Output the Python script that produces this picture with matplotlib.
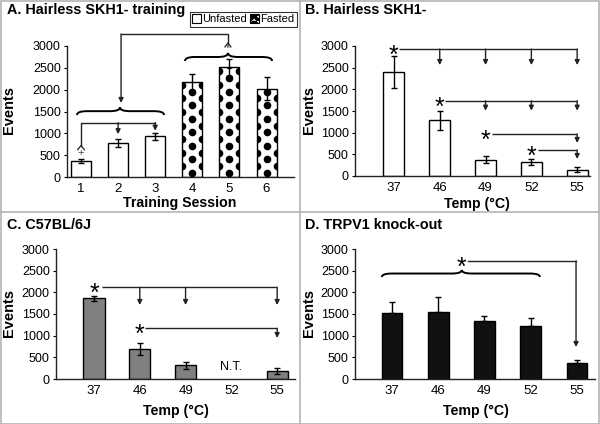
import numpy as np
import matplotlib
matplotlib.use("Agg")
import matplotlib.pyplot as plt
from matplotlib.path import Path
from matplotlib.patches import PathPatch, Patch, Rectangle
from matplotlib.lines import Line2D

plt.rcParams['font.family'] = ['Liberation Sans', 'DejaVu Sans']
plt.rcParams['hatch.linewidth'] = 2.0

# data
sessions = ["1", "2", "3", "4", "5", "6"]
a_vals = [360, 770, 930, 2180, 2510, 2020]
a_err = [50, 90, 80, 180, 200, 260]
a_fasted = [False, False, False, True, True, True]

temps = ["37", "46", "49", "52", "55"]
b_vals = [2410, 1290, 380, 330, 150]
b_err = [370, 220, 80, 70, 50]

c_vals = [1860, 700, 320, np.nan, 190]
c_err = [50, 140, 80, 0, 70]

d_vals = [1530, 1540, 1330, 1220, 360]
d_err = [240, 350, 120, 190, 80]

W, H = 600, 424
fig = plt.figure(figsize=(6, 4.24), dpi=100)


def px_axes(left, right, top, bottom):
    return fig.add_axes([left / W, 1 - bottom / H, (right - left) / W, (bottom - top) / H])


def style(ax, xlim, labels, positions):
    ax.set_ylim(0, 3000)
    ax.set_xlim(*xlim)
    ax.set_yticks(range(0, 3001, 500))
    ax.set_xticks(positions)
    ax.set_xticklabels(labels)
    for s in ["top", "right"]:
        ax.spines[s].set_visible(False)
    for s in ["left", "bottom"]:
        ax.spines[s].set_color("#222222")
        ax.spines[s].set_linewidth(1)
    ax.tick_params(axis="y", length=2.5, width=0.8, pad=2, labelsize=9, direction="out")
    ax.tick_params(axis="x", length=0, pad=4.5, labelsize=9.5)
    ax.patch.set_alpha(0)


def curly(ax, x0, x1, xc, y0, h, d, lw=1.4):
    ym = y0 + h / 2
    verts = [(x0, y0), (x0, ym), (x0 + d, ym),
             (xc - d, ym), (xc, ym), (xc, y0 + h),
             (xc, ym), (xc + d, ym),
             (x1 - d, ym), (x1, ym), (x1, y0)]
    codes = [Path.MOVETO, Path.CURVE3, Path.CURVE3,
             Path.LINETO, Path.CURVE3, Path.CURVE3,
             Path.CURVE3, Path.CURVE3,
             Path.LINETO, Path.CURVE3, Path.CURVE3]
    ax.add_patch(PathPatch(Path(verts, codes), fill=False, lw=lw, color="black", clip_on=False))


def arrow(ax, x, y_from, y_to, color="#222222"):
    ax.annotate("", xy=(x, y_to), xytext=(x, y_from),
                arrowprops=dict(arrowstyle="-|>", lw=1, color=color, mutation_scale=7,
                                shrinkA=0, shrinkB=0), annotation_clip=False)


def hline(ax, x0, x1, y, color="#222222"):
    ax.plot([x0, x1], [y, y], color=color, lw=1, clip_on=False, solid_capstyle="butt")


def star(ax, x, y, size=18):
    ax.annotate("*", xy=(x, y), xytext=(0, -10), textcoords="offset points",
                ha="center", va="baseline", fontsize=size, annotation_clip=False)


# ---------------- Panel A ----------------
axA = px_axes(67, 294, 46, 177)
xa = np.arange(1, 7)
wa = 0.54
for x, v, e, f in zip(xa, a_vals, a_err, a_fasted):
    rect = axA.bar(x, v, width=wa, color="white", edgecolor="black", lw=1, zorder=2)[0]
    if f:
        # big black dot fill
        pts_x, pts_y = [], []
        dy = 155
        for k, yy in enumerate(np.arange(dy * 0.6, v + dy, dy)):
            xs = [x] if k % 2 == 0 else [x - wa / 2, x + wa / 2]
            for xx in xs:
                pts_x.append(xx)
                pts_y.append(yy)
        dots, = axA.plot(pts_x, pts_y, "o", color="black", ms=5.5, mew=0, zorder=3)
        dots.set_clip_path(rect)
    axA.errorbar(x, v, yerr=e, color="black", lw=1, capsize=2, capthick=1, zorder=4)
style(axA, (0.623, 6.74), sessions, xa)

curly(axA, 0.89, 3.24, 2.05, 1420, 175, 0.27)
curly(axA, 3.80, 6.15, 4.96, 2656, 185, 0.27)
# big arrow from fasted group to unfasted group
axA.plot([4.96, 4.96, 2.08], [3069, 3275, 3275], color="#222222", lw=1, clip_on=False)
arrow(axA, 2.08, 3275, 1695)
axA.plot([4.96 - 0.08, 4.96, 4.96 + 0.08], [3069 - 90, 3069, 3069 - 90], color="#222222", lw=0.9, clip_on=False)
axA.text(4.96, 2960, "*", ha="center", va="center", fontsize=8, color="#333333")
# bracket over sessions 1-3
axA.plot([1, 1, 3], [720, 1244, 1244], color="#222222", lw=1, clip_on=False)
axA.plot([1 - 0.09, 1, 1 + 0.09], [720 - 95, 720, 720 - 95], color="#222222", lw=0.9)
axA.text(1, 540, "+", ha="center", va="center", fontsize=8, color="#444444")
arrow(axA, 2, 1244, 980)
arrow(axA, 3, 1244, 1060)

axA.legend(handles=[Patch(facecolor="white", edgecolor="black", lw=0.8),
                    Patch(facecolor="white", edgecolor="black", hatch="OO", lw=0.8)],
           labels=["Unfasted", "Fasted"], ncol=2, loc="upper left",
           bbox_to_anchor=(190 / W, 1 - 12 / H), bbox_transform=fig.transFigure,
           fontsize=8, frameon=True, fancybox=False, edgecolor="black",
           handlelength=0.8, handleheight=0.8, handletextpad=0.1, columnspacing=0.3,
           borderpad=0.2, borderaxespad=0)
axA.get_legend().get_frame().set_linewidth(0.8)

# ---------------- Panel B ----------------
axB = px_axes(355, 590, 46, 176)
xb = np.arange(5)
axB.bar(xb, b_vals, width=0.46, color="white", edgecolor="black", lw=1, zorder=2)
axB.errorbar(xb, b_vals, yerr=b_err, fmt="none", ecolor="black", lw=1, capsize=2, capthick=1, zorder=3)
style(axB, (-0.85, 4.28), temps, xb)

star(axB, 0, 2930)
hline(axB, 0.1, 4, 2930)
for i in [1, 2, 3, 4]:
    arrow(axB, i, 2930, 2560)
star(axB, 1, 1738)
hline(axB, 1.12, 4, 1738)
for i in [2, 3, 4]:
    arrow(axB, i, 1738, 1507)
star(axB, 2, 970)
hline(axB, 2.15, 4, 970)
arrow(axB, 4, 970, 762)
star(axB, 3, 600)
hline(axB, 3.14, 4, 600)
arrow(axB, 4, 600, 392)

# ---------------- Panel C ----------------
axC = px_axes(56, 295, 249, 379)
xc = np.arange(5)
c_mask = ~np.isnan(c_vals)
axC.bar(xc[c_mask], np.array(c_vals)[c_mask], width=0.46, color="#808080", edgecolor="black", lw=1, zorder=2)
axC.errorbar(xc[c_mask], np.array(c_vals)[c_mask], yerr=np.array(c_err)[c_mask], fmt="none",
             ecolor="black", lw=1, capsize=2, capthick=1, zorder=3)
style(axC, (-0.83, 4.39), temps, xc)
for i in xc[~c_mask]:
    axC.text(i, 277, "N.T.", ha="center", va="center", fontsize=9)

star(axC, 0, 2115)
hline(axC, 0.17, 4, 2115)
for i in [1, 2, 4]:
    arrow(axC, i, 2115, 1707)
star(axC, 1, 1170)
hline(axC, 1.12, 4, 1170)
arrow(axC, 4, 1170, 946)

# ---------------- Panel D ----------------
axD = px_axes(355, 595, 249, 379)
xd = np.arange(5)
axD.bar(xd, d_vals, width=0.45, color="#111111", edgecolor="black", lw=1, zorder=2)
axD.errorbar(xd, d_vals, yerr=[np.zeros(5), d_err], fmt="none", ecolor="black", lw=1,
             capsize=2, capthick=1, zorder=1)
style(axD, (-0.8, 4.39), temps, xd)

curly(axD, -0.22, 3.2, 1.51, 2354, 160, 0.22)
star(axD, 1.51, 2723)
axD.plot([1.64, 3.98], [2723, 2723], color="#222222", lw=1, clip_on=False)
arrow(axD, 3.98, 2723, 738)

# ---------------- titles and labels ----------------
tk = dict(fontsize=10.4, fontweight="bold", va="top", ha="left")
fig.text(7 / W, 1 - 3 / H, "A. Hairless SKH1- training", **tk)
fig.text(305 / W, 1 - 3 / H, "B. Hairless SKH1-", **tk)
fig.text(7 / W, 1 - 218 / H, "C. C57BL/6J", **tk)
fig.text(305 / W, 1 - 218 / H, "D. TRPV1 knock-out", **tk)

lk = dict(fontsize=10.2, fontweight="bold", ha="center", va="center")
fig.text(180 / W, 1 - 203 / H, "Training Session", **lk)
fig.text(477 / W, 1 - 204 / H, "Temp (°C)", **lk)
fig.text(176 / W, 1 - 411 / H, "Temp (°C)", **lk)
fig.text(476 / W, 1 - 411 / H, "Temp (°C)", **lk)

yk = dict(fontsize=10.5, fontweight="bold", ha="center", va="center", rotation=90)
fig.text(9 / W, 1 - 110 / H, "Events", **yk)
fig.text(309 / W, 1 - 110 / H, "Events", **yk)
fig.text(9 / W, 1 - 313 / H, "Events", **yk)
fig.text(309 / W, 1 - 313 / H, "Events", **yk)

# panel frames
gc = "#b4b4b4"
fig.add_artist(Line2D([300 / W, 300 / W], [0, 1], color=gc, lw=1.2))
fig.add_artist(Line2D([0, 1], [1 - 212 / H, 1 - 212 / H], color=gc, lw=1.2))
fig.add_artist(Rectangle((0.5 / W, 0.5 / H), 1 - 1.5 / W, 1 - 1.5 / H, fill=False,
                         edgecolor=gc, lw=1.2, transform=fig.transFigure))

fig.savefig("out.png", dpi=100)
